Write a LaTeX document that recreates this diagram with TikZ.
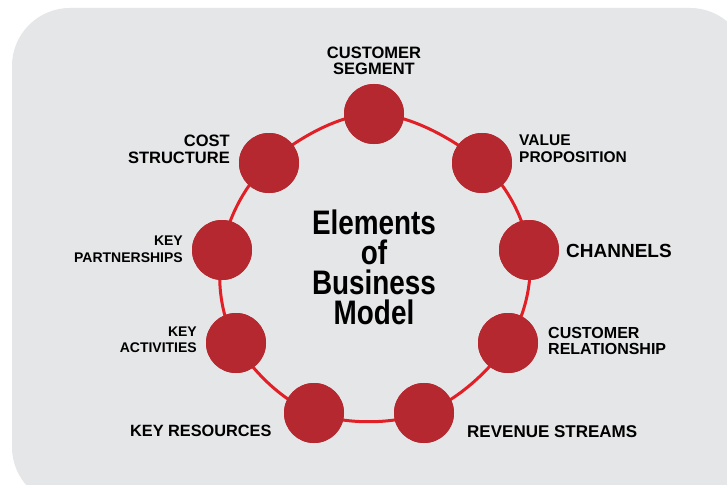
\documentclass[tikz,border=0pt]{standalone}
\usepackage{fontspec}
\setmainfont{Liberation Sans}
\definecolor{bggray}{HTML}{E5E6E7}
\definecolor{dotred}{HTML}{B6282F}
\definecolor{ringred}{HTML}{E11F26}
\tikzset{
  dot/.style={circle, fill=dotred, minimum size=60pt, inner sep=0pt},
  ringline/.style={draw=ringred, line width=3pt},
  lbl/.style={inner sep=0pt, text=black, font=\bfseries\fontsize{16}{16.5}\selectfont},
}
\begin{document}
\begin{tikzpicture}[x=1pt,y=-1pt]
\useasboundingbox (0,0) rectangle (727,484);
\clip (0,0) rectangle (727,484);
\fill[white] (0,0) rectangle (727,484);
\fill[bggray, rounded corners=58pt] (12,8) rectangle (748,505);

% dots
\node[dot] (cust) at (374,114) {};
\node[dot] (val)  at (482,163) {};
\node[dot] (chan) at (529,250) {};
\node[dot] (crel) at (508,343) {};
\node[dot] (rev)  at (424,413) {};
\node[dot] (kres) at (314,413) {};
\node[dot] (kact) at (236,343) {};
\node[dot] (kpar) at (222,250) {};
\node[dot] (cost) at (269,163) {};

% ring through the dots
\draw[ringline] plot[smooth cycle, tension=0.6] coordinates {(cust.center) (val.center) (chan.center) (crel.center) (rev.center) (kres.center) (kact.center) (kpar.center) (cost.center)};
% dots again on top of the ring
\foreach \n in {cust, val, chan, crel, rev, kres, kact, kpar, cost}
  \fill[dotred] (\n.center) circle (30pt);

% title
\node[inner sep=0pt, align=center, font=\bfseries\fontsize{34}{30}\selectfont] (title) at (374,267)
  {\scalebox{0.82}[1]{Elements}\\\scalebox{0.82}[1]{of}\\\scalebox{0.82}[1]{Business}\\\scalebox{0.82}[1]{Model}};

% labels
\node[lbl, anchor=north, align=center, font=\bfseries\fontsize{16.5}{15.5}\selectfont] (lcust) at (374,47) {CUSTOMER\\SEGMENT};
\node[lbl, anchor=north east, align=right, font=\bfseries\fontsize{16.5}{17}\selectfont] (lcost) at (230,135) {COST\\STRUCTURE};
\node[lbl, anchor=north west, align=left, font=\bfseries\fontsize{15.5}{16.5}\selectfont] (lval) at (519,135) {VALUE\\PROPOSITION};
\node[lbl, anchor=north east, align=right, font=\bfseries\fontsize{14}{17}\selectfont] (lkpar) at (183,236) {KEY\\PARTNERSHIPS};
\node[lbl, anchor=base west, font=\bfseries\fontsize{19}{20}\selectfont] (lchan) at (566,257) {CHANNELS};
\node[lbl, anchor=north east, align=right, font=\bfseries\fontsize{14}{16}\selectfont] (lkact) at (197,327) {KEY\\ACTIVITIES};
\node[lbl, anchor=north west, align=left, font=\bfseries\fontsize{16}{16}\selectfont] (lcrel) at (548,327) {CUSTOMER\\RELATIONSHIP};
\node[lbl, anchor=base west, font=\bfseries\fontsize{16.3}{17}\selectfont] (lkres) at (130,436) {KEY RESOURCES};
\node[lbl, anchor=base west, font=\bfseries\fontsize{17}{18}\selectfont] (lrev) at (467,437) {REVENUE STREAMS};
\end{tikzpicture}
\end{document}
